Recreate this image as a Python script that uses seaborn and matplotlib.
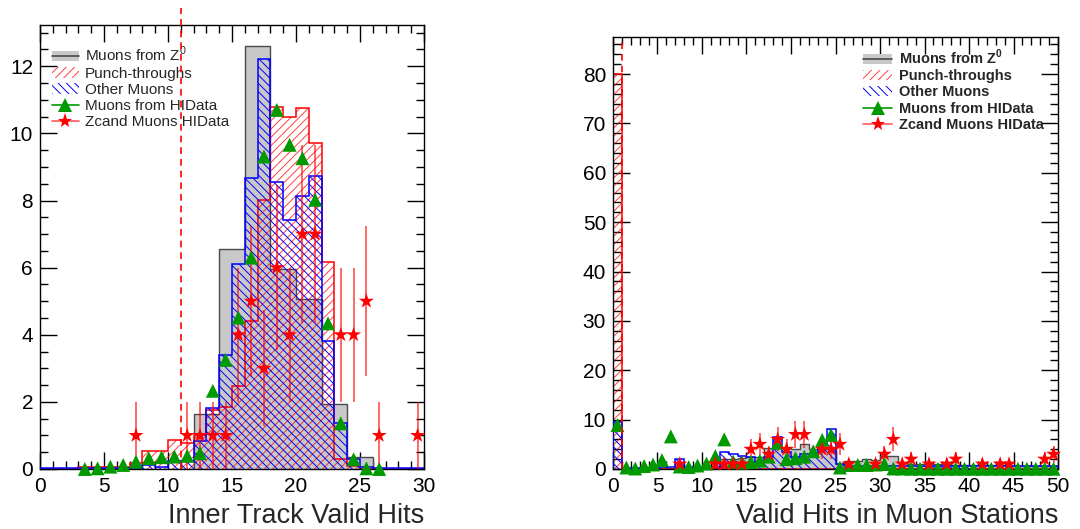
"""
Muon hit distributions: inner-track valid hits and valid hits in the muon stations.
Usage: python plot.py
"""
import matplotlib

matplotlib.use("Agg")
import matplotlib.pyplot as plt
import numpy as np
import seaborn as sns
from matplotlib.legend_handler import HandlerTuple
from matplotlib.lines import Line2D
from matplotlib.patches import Patch
from matplotlib.ticker import MultipleLocator

# --- left panel: inner track valid hits (bins of width 1, 0..30) ---
inner_edges = np.arange(0, 31)
inner_z0 = [0, 0, 0, 0, 0, 0, 0, 0, 0, 0, 0, 0,
            1.63, 1.63, 6.56, 6.56, 12.6, 12.6, 5.95, 5.95, 5.08, 5.08,
            1.93, 1.93, 0.35, 0.35, 0, 0, 0, 0]
inner_punch = [0, 0, 0, 0.07, 0.07, 0.07, 0.07, 0.19, 0.55, 0.55, 0.86, 0.76,
               1.0, 1.75, 1.86, 2.48, 4.41, 8.02, 10.8, 10.48, 10.75, 9.71,
               6.16, 0.3, 0.1, 0, 0, 0, 0, 0]
inner_other = [0.03, 0.03, 0.03, 0.03, 0.03, 0.03, 0.03, 0.03, 0.12, 0.05, 0.24, 0.24,
               0.83, 1.81, 3.4, 6.1, 8.68, 12.23, 8.56, 7.42, 8.12, 8.74,
               3.8, 1.37, 0.3, 0.05, 0.03, 0.03, 0.03, 0.03]
inner_hi_x = [3.5, 4.5, 5.5, 6.5, 7.5, 8.5, 9.5, 10.5, 11.5, 12.5, 13.5, 14.5,
              15.5, 16.5, 17.5, 18.5, 19.5, 20.5, 21.5, 22.5, 23.5, 24.5, 25.5, 26.5]
inner_hi_y = [0.0, 0.02, 0.07, 0.12, 0.22, 0.32, 0.35, 0.37, 0.39, 0.47, 2.33, 3.25,
              4.51, 6.3, 9.31, 10.7, 9.66, 9.26, 8.02, 4.34, 1.36, 0.29, 0.02, 0.0]
inner_zc_x = [7.5, 11.5, 12.5, 13.5, 14.5, 15.5, 16.5, 17.5, 18.5, 19.5, 20.5, 21.5,
              23.5, 24.5, 25.5, 26.5, 29.5]
inner_zc_y = [1, 1, 1, 1, 1, 4, 5, 3, 6, 4, 7, 7, 4, 4, 5, 1, 1]

# --- right panel: valid hits in muon stations (bins of width 1, 0..50) ---
station_edges = np.arange(0, 51)
station_z0 = [0, 0.3, 0.3, 0.3, 0.3, 0.3, 0.3, 0.3, 0.3, 0.3, 0.3, 0.3,
              2.0, 2.0, 2.3, 2.4, 2.4, 4.2, 4.2, 4.2, 4.0, 5.0, 4.0, 4.0, 4.0,
              1.0, 1.7, 1.7, 2.0, 1.8, 2.6, 2.6, 1.2,
              1.1, 1.1, 1.0, 1.0, 1.0, 0.9, 0.9, 0.9, 0.8, 0.8, 0.8, 0.7, 0.7, 0.7,
              0.6, 0.6, 0.6]
station_punch = [80.0] + [0.1] * 49
station_other = [9.5, 0.3, 0.3, 0.3, 0.3, 0.5, 0.5, 2.0, 0.5, 0.5, 0.5, 0.5,
                 3.5, 3.0, 2.7, 2.5, 1.5, 2.5, 6.4, 3.5, 2.5, 3.0, 3.0, 5.0, 8.1,
                 1.0] + [0.6] * 24
station_hi_y = [8.9, 0.3, 0.1, 0.6, 0.9, 1.8, 6.6, 0.5, 0.4, 0.7, 1.1, 2.6,
                6.0, 1.5, 1.3, 1.4, 1.7, 2.5, 5.3, 2.0, 2.2, 2.5, 3.6, 5.9, 6.9,
                0.3, 0.8, 0.8, 0.8, 0.9, 1.0, 0.1, 0.1] + [0.05] * 17
station_zc_bin = [7, 11, 12, 13, 14, 15, 16, 17, 18, 19, 20, 21, 23, 24, 25, 26,
                  29, 30, 31, 32, 33, 35, 37, 38, 41, 43, 44, 48, 49]
station_zc_y = [1, 1, 1, 1, 1, 4, 5, 3, 6, 4, 7, 7, 4, 4, 5, 1,
                1, 3, 6, 1, 2, 1, 1, 2, 1, 1, 1, 2, 3]

labels = [r"Muons from Z$^0$", "Punch-throughs", "Other Muons",
          "Muons from HIData", "Zcand Muons HIData"]

GRAY = "#c8c8c8"
GREEN = "#009a00"
RED = "#ff0000"
BLUE = "#0000ff"


def draw_hists(ax, edges, z0, punch, other):
    ax.stairs(z0, edges, fill=True, facecolor=GRAY, edgecolor="#4a4a4a",
              linewidth=1.0, zorder=1)
    ax.stairs(punch, edges, fill=True, facecolor="none", edgecolor=(1, 0, 0, 0.75),
              hatch="////", linewidth=0, zorder=2)
    ax.stairs(punch, edges, fill=False, color=RED, linewidth=1.1, baseline=0, zorder=2)
    ax.stairs(other, edges, fill=True, facecolor="none", edgecolor=BLUE,
              hatch="\\\\\\\\", linewidth=1.1, zorder=3)


def draw_points(ax, hi_x, hi_y, zc_x, zc_y):
    zc_y = np.asarray(zc_y, dtype=float)
    ax.errorbar(zc_x, zc_y, yerr=np.sqrt(zc_y), fmt="none", ecolor=(1, 0, 0, 0.75),
                elinewidth=1.1, capsize=0, zorder=4)
    sns.scatterplot(x=hi_x, y=hi_y, marker="^", color=GREEN, s=100, edgecolor="none",
                    ax=ax, zorder=5, clip_on=False, legend=False)
    sns.scatterplot(x=zc_x, y=zc_y, marker="*", color=RED, s=130, edgecolor="none",
                    ax=ax, zorder=6, clip_on=False, legend=False)


def root_axes(ax, xmajor, xminor, ymajor, yminor):
    ax.xaxis.set_major_locator(MultipleLocator(xmajor))
    ax.xaxis.set_minor_locator(MultipleLocator(xminor))
    ax.yaxis.set_major_locator(MultipleLocator(ymajor))
    ax.yaxis.set_minor_locator(MultipleLocator(yminor))
    ax.tick_params(which="both", direction="in", top=True, right=True,
                   labelsize=15, colors="black")
    ax.tick_params(which="major", length=12, width=1.0)
    ax.tick_params(which="minor", length=6, width=1.0)
    ax.tick_params(axis="x", pad=6)
    ax.tick_params(axis="y", pad=5)
    for s in ax.spines.values():
        s.set_color("black")
        s.set_linewidth(1.0)
    ax.set_xlabel("")
    ax.set_ylabel("")


def legend_handles():
    return [
        (Patch(facecolor=GRAY, edgecolor="none"), Line2D([], [], color="#4a4a4a", lw=1.2)),
        Patch(facecolor="none", edgecolor=(1, 0, 0, 0.75), hatch="////", linewidth=0),
        Patch(facecolor="none", edgecolor=BLUE, hatch="\\\\\\\\", linewidth=0),
        Line2D([], [], color=GREEN, lw=1.2, marker="^", markersize=10, markeredgewidth=0),
        Line2D([], [], color=(1, 0.35, 0.35), lw=1.2, marker="*", markersize=11,
               markerfacecolor=RED, markeredgewidth=0),
    ]


def main():
    sns.set_style("ticks")
    plt.rcParams["font.family"] = ["Liberation Sans", "DejaVu Sans"]
    plt.rcParams["mathtext.fontset"] = "custom"
    plt.rcParams["mathtext.rm"] = "Liberation Sans"
    plt.rcParams["mathtext.bf"] = "Liberation Sans:bold"
    plt.rcParams["hatch.linewidth"] = 0.7

    fig = plt.figure(figsize=(10.8, 5.29), dpi=100)
    ax1 = fig.add_axes([40 / 1080, 1 - 469 / 529, 384 / 1080, 444 / 529])
    ax2 = fig.add_axes([613 / 1080, 1 - 469 / 529, 445 / 1080, 432 / 529])
    tuple_handler = {tuple: HandlerTuple(ndivide=1, pad=0)}

    # left panel
    draw_hists(ax1, inner_edges, inner_z0, inner_punch, inner_other)
    draw_points(ax1, inner_hi_x, inner_hi_y, inner_zc_x, inner_zc_y)
    ax1.plot([11, 11], [0, 13.75], color=RED, lw=1.2, ls=(0, (4, 3)), zorder=7,
             clip_on=False)
    ax1.set_xlim(0, 30)
    ax1.set_ylim(0, 13.23)
    root_axes(ax1, 5, 1, 2, 0.5)
    ax1.legend(legend_handles(), labels, loc="upper left", bbox_to_anchor=(0.03, 0.955),
               frameon=False, fontsize=11, handlelength=1.8, handleheight=0.7,
               handletextpad=0.4, labelspacing=0.15, borderpad=0, borderaxespad=0,
               handler_map=tuple_handler)

    # right panel
    draw_hists(ax2, station_edges, station_z0, station_punch, station_other)
    draw_points(ax2, np.arange(50) + 0.5, station_hi_y,
                np.asarray(station_zc_bin) + 0.5, station_zc_y)
    ax2.plot([1, 1], [0, 87.5], color=RED, lw=1.2, ls=(0, (4, 3)), zorder=7)
    ax2.set_xlim(0, 50)
    ax2.set_ylim(0, 87.5)
    root_axes(ax2, 5, 1, 10, 2)
    leg = ax2.legend(legend_handles(), [r"Muons from Z$^\mathbf{0}$"] + labels[1:],
                     loc="upper left", bbox_to_anchor=(0.562, 0.975),
                     frameon=False, prop={"size": 10.5, "weight": "bold"},
                     handlelength=2.0, handleheight=0.7, handletextpad=0.45,
                     labelspacing=0.15, borderpad=0, borderaxespad=0,
                     handler_map=tuple_handler)
    leg.set_zorder(10)

    fig.text(424 / 1080, 6 / 529, "Inner Track Valid Hits", ha="right",
             va="baseline", fontsize=19.5)
    fig.text(1058 / 1080, 6 / 529, "Valid Hits in Muon Stations", ha="right",
             va="baseline", fontsize=19.5)

    fig.savefig("out.png", dpi=100)
    plt.close(fig)


if __name__ == "__main__":
    main()
